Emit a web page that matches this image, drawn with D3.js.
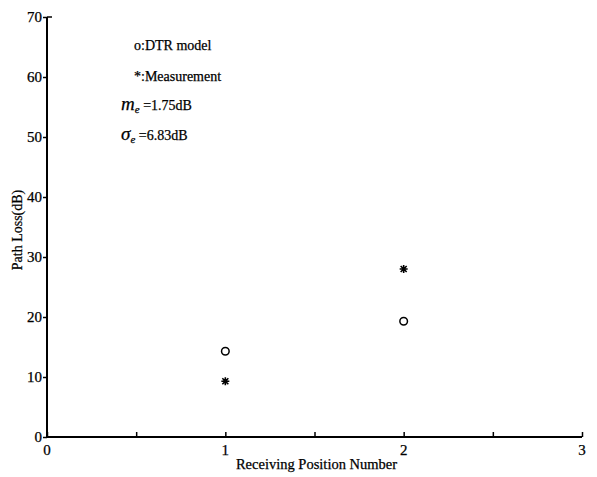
<!DOCTYPE html>
<html>
<head>
<meta charset="utf-8">
<script src="https://cdn.jsdelivr.net/npm/d3@7"></script>
<style>
  body { margin: 0; background: #fff; }
  svg text { font-family: 'Liberation Serif', 'DejaVu Serif', serif !important; fill: #000; stroke: #000; stroke-width: 0.25px; }
</style>
</head>
<body>
<script>
const positions = [1, 2]
const dtrModel = [14.3, 19.3]
const measurement = [9.3, 28.0]
const xTicks = [0, 0.5, 1, 1.5, 2, 2.5, 3]
const xLabels = [0, 1, 2, 3]
const yTicks = [0, 10, 20, 30, 40, 50, 60, 70]

let width = 597, height = 477
let svg = d3.select('body').append('svg')
  .attr('width', width)
  .attr('height', height)

const x = d3.scaleLinear().domain([0, 3]).range([47, 582])
const y = d3.scaleLinear().domain([0, 70]).range([437, 17])

// axes
let xAxis = svg.append('g').attr('transform', `translate(0, ${y(0)})`)
  .call(d3.axisTop(x).tickValues(xTicks).tickSize(5).tickFormat(''))
xAxis.select('.domain').attr('d', `M${x(0)},0H${x(3)}`).style('stroke-width', 2)
xAxis.selectAll('.tick line').style('stroke-width', 1.5)

svg.append('g').selectAll('text').data(xLabels).enter().append('text')
  .attr('x', d => x(d))
  .attr('y', y(0) + 18)
  .attr('text-anchor', 'middle')
  .style('font-size', '15px')
  .text(d => d)

let yAxis = svg.append('g').attr('transform', `translate(${x(0)}, 0)`)
  .call(d3.axisLeft(y).tickValues(yTicks).tickSize(4).tickPadding(1))
yAxis.attr('font-family', null).attr('font-size', null)
yAxis.select('.domain').attr('d', `M0,${y(70)}V${y(0)}`).style('stroke-width', 2)
yAxis.selectAll('.tick line').style('stroke-width', 1.5)
yAxis.selectAll('.tick text').style('font-size', '15px')

// top corner tick
svg.append('line').attr('x1', x(0)).attr('x2', x(0) + 5)
  .attr('y1', y(70)).attr('y2', y(70)).style('stroke', '#000').style('stroke-width', 1.5)

svg.append('text')
  .attr('transform', `translate(22, ${(y(0) + y(70)) / 2 + 3}) rotate(-90)`)
  .attr('text-anchor', 'middle')
  .style('font-size', '14px')
  .text('Path Loss(dB)')

svg.append('text')
  .attr('x', (x(0) + x(3)) / 2 + 2)
  .attr('y', 469)
  .attr('text-anchor', 'middle')
  .style('font-size', '14.5px')
  .text('Receiving Position Number')

// markers
svg.append('g').selectAll('circle').data(positions).enter().append('circle')
  .attr('cx', d => x(d))
  .attr('cy', (d, i) => y(dtrModel[i]))
  .attr('r', 3.8)
  .style('fill', 'none')
  .style('stroke', '#000')
  .style('stroke-width', 1.5)

let star = svg.append('g').selectAll('g').data(positions).enter().append('g')
  .attr('transform', (d, i) => `translate(${x(d)}, ${y(measurement[i])})`)
const s = 4
star.append('path')
  .attr('d', `M${-s},0H${s}M0,${-s}V${s}M${-s*0.75},${-s*0.75}L${s*0.75},${s*0.75}M${-s*0.75},${s*0.75}L${s*0.75},${-s*0.75}`)
  .style('stroke', '#000')
  .style('stroke-width', 1.6)

// annotation
let note = svg.append('g').style('font-size', '14px')
note.append('text').attr('x', 134).attr('y', 50).text('o:DTR model')
note.append('text').attr('x', 134).attr('y', 81).text('*:Measurement')
let m = note.append('text').attr('x', 121).attr('y', 110)
m.append('tspan').style('font-style', 'italic').style('font-size', '19px').text('m')
m.append('tspan').style('font-style', 'italic').style('font-size', '11px').attr('dy', 3).text('e')
m.append('tspan').attr('dy', -3).text(' =1.75dB')
let sg = note.append('text').attr('x', 121).attr('y', 140)
sg.append('tspan').style('font-style', 'italic').style('font-size', '19px').text('σ')
sg.append('tspan').style('font-style', 'italic').style('font-size', '11px').attr('dy', 3).text('e')
sg.append('tspan').attr('dy', -3).text(' =6.83dB')
</script>
</body>
</html>
